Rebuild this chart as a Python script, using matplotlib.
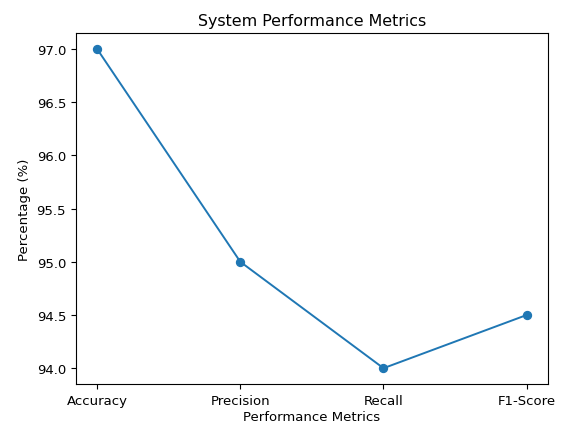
import matplotlib
matplotlib.use('Agg')
import matplotlib.pyplot as plt

metrics = ['Accuracy', 'Precision', 'Recall', 'F1-Score']
values = [97.0, 95.0, 94.0, 94.5]

plt.rcParams['font.size'] = 9.5
plt.rcParams['axes.titlesize'] = 11.4

fig = plt.figure(figsize=(5.61, 4.27), dpi=100)
ax = fig.add_axes([0.135, 0.098, 0.842, 0.822])
ax.plot(metrics, values, marker='o', markersize=5.7, linewidth=1.4)
ax.set_title('System Performance Metrics')
ax.set_xlabel('Performance Metrics', labelpad=2)
ax.set_ylabel('Percentage (%)')

fig.savefig('out.png', dpi=100)
